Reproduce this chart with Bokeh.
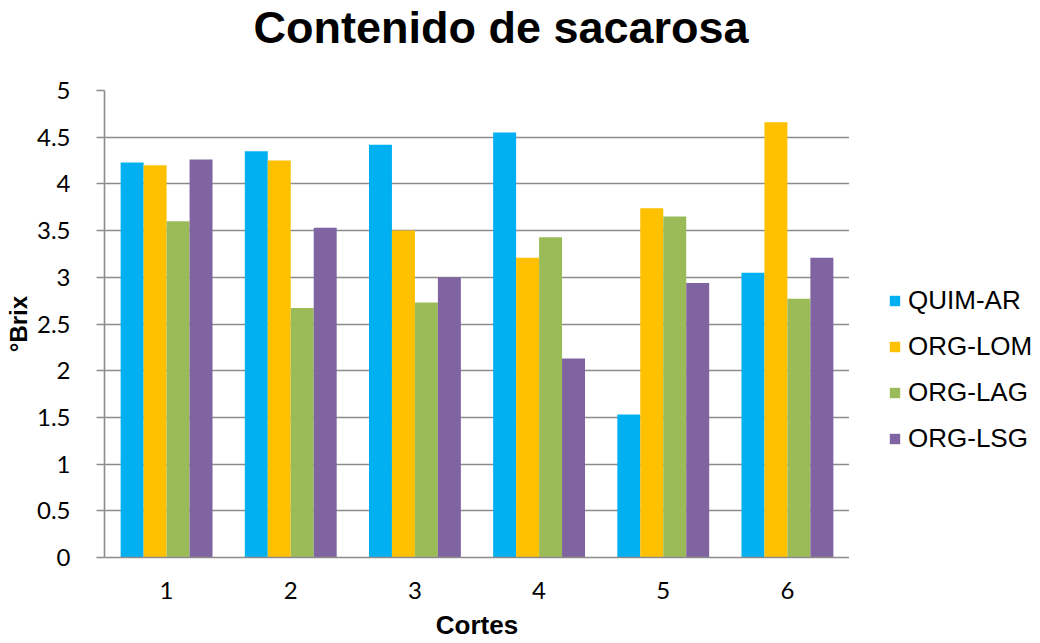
from bokeh.plotting import figure
from bokeh.models import (Range1d, FixedTicker, Legend, LegendItem, ColumnDataSource,
                          Title, CustomJSTickFormatter)
from bokeh.layouts import row, column
from bokeh.transform import dodge
from bokeh.embed import file_html
from bokeh.resources import INLINE

cortes = [1, 2, 3, 4, 5, 6]
series = ["QUIM-AR", "ORG-LOM", "ORG-LAG", "ORG-LSG"]
quim_ar = [4.23, 4.35, 4.42, 4.55, 1.53, 3.05]
org_lom = [4.20, 4.25, 3.50, 3.21, 3.74, 4.66]
org_lag = [3.60, 2.67, 2.73, 3.43, 3.65, 2.77]
org_lsg = [4.26, 3.53, 3.00, 2.13, 2.94, 3.21]
colors = ["#00B0F0", "#FFC000", "#9BBB59", "#8064A2"]
y_ticks = [0, 0.5, 1, 1.5, 2, 2.5, 3, 3.5, 4, 4.5, 5]

src = ColumnDataSource(dict(x=cortes, q=quim_ar, l=org_lom, g=org_lag, s=org_lsg))
cols = ["q", "l", "g", "s"]

# ---- title strip ----
pt = figure(width=1040, height=60, output_backend="svg", toolbar_location=None,
            x_axis_location=None, y_axis_location=None,
            x_range=Range1d(0, 1), y_range=Range1d(0, 1), min_border=0)
pt.title = None
pt.grid.grid_line_color = None
pt.outline_line_color = None
pt.add_layout(Title(text="Contenido de sacarosa", align="left", offset=253,
                    vertical_align="top", standoff=2,
                    text_font="Liberation Sans", text_font_style="bold",
                    text_font_size="45px", text_color="#000000"), "above")

# ---- main chart ----
p = figure(width=849, height=583, output_backend="svg", toolbar_location=None,
           x_range=Range1d(0.5, 6.5), y_range=Range1d(0, 5),
           min_border_left=104, min_border_right=0, min_border_top=30, min_border_bottom=86)
p.title = None

bw = 0.185
offs = [-1.5 * bw, -0.5 * bw, 0.5 * bw, 1.5 * bw]
for c, o, col in zip(cols, offs, colors):
    p.vbar(x=dodge("x", o), top=c, width=bw, bottom=0, source=src,
           fill_color=col, line_color=None)

p.outline_line_color = None
p.background_fill_color = "white"
p.border_fill_color = "white"

p.xgrid.grid_line_color = None
p.ygrid.ticker = FixedTicker(ticks=y_ticks)
p.ygrid.grid_line_color = "#8C8C8C"
p.ygrid.grid_line_width = 1.6

p.yaxis.ticker = FixedTicker(ticks=y_ticks)
p.yaxis.formatter = CustomJSTickFormatter(code="return tick.toString();")
p.yaxis.axis_line_color = "#8C8C8C"
p.yaxis.axis_line_width = 1.6
p.yaxis.major_tick_line_color = "#8C8C8C"
p.yaxis.major_tick_line_width = 1.6
p.yaxis.major_tick_out = 8
p.yaxis.major_tick_in = 0
p.yaxis.minor_tick_line_color = None
p.yaxis.major_label_text_font = "Lato"
p.yaxis.major_label_text_font_size = "24px"
p.yaxis.major_label_text_color = "#000000"
p.yaxis.major_label_standoff = 26
p.yaxis.axis_label = "°Brix"
p.yaxis.axis_label_text_font = "Liberation Sans"
p.yaxis.axis_label_text_font_style = "bold"
p.yaxis.axis_label_text_font_size = "24px"
p.yaxis.axis_label_text_color = "#000000"
p.yaxis.axis_label_standoff = 2

p.xaxis.ticker = FixedTicker(ticks=cortes)
p.xaxis.axis_line_color = "#8C8C8C"
p.xaxis.axis_line_width = 1.6
p.xaxis.major_tick_line_color = None
p.xaxis.minor_tick_line_color = None
p.xaxis.major_label_text_font = "Lato"
p.xaxis.major_label_text_font_size = "24px"
p.xaxis.major_label_text_color = "#000000"
p.xaxis.major_label_standoff = 18
p.xaxis.axis_label = "Cortes"
p.xaxis.axis_label_text_font = "Liberation Sans"
p.xaxis.axis_label_text_font_style = "bold"
p.xaxis.axis_label_text_font_size = "26px"
p.xaxis.axis_label_text_color = "#000000"
p.xaxis.axis_label_standoff = 8

# ---- legend panel: zero-height proxy bars only carry the legend swatches ----
pl = figure(width=191, height=583, output_backend="svg", toolbar_location=None,
            x_axis_location=None, y_axis_location=None,
            x_range=Range1d(0, 1), y_range=Range1d(0, 1), min_border=0)
pl.title = None
pl.grid.grid_line_color = None
pl.outline_line_color = None
proxy = ColumnDataSource(dict(x=[0.5], top=[0.0]))
lrs = [pl.vbar(x="x", top="top", bottom=0, width=0.1, source=proxy,
               fill_color=col, line_color=None)
       for col in colors]
legend = Legend(items=[LegendItem(label=s, renderers=[r]) for s, r in zip(series, lrs)],
                location=(39, 103), orientation="vertical")
legend.label_text_font = "Liberation Sans"
legend.label_text_font_size = "26px"
legend.label_text_color = "#000000"
legend.glyph_width = 13
legend.glyph_height = 13
legend.label_standoff = 7
legend.spacing = 15
legend.label_height = 26
legend.border_line_color = None
legend.background_fill_alpha = 0
legend.padding = 0
legend.margin = 0
pl.add_layout(legend, "center")

layout = column(pt, row(p, pl))
open("out.html", "w").write(file_html(layout, INLINE))
